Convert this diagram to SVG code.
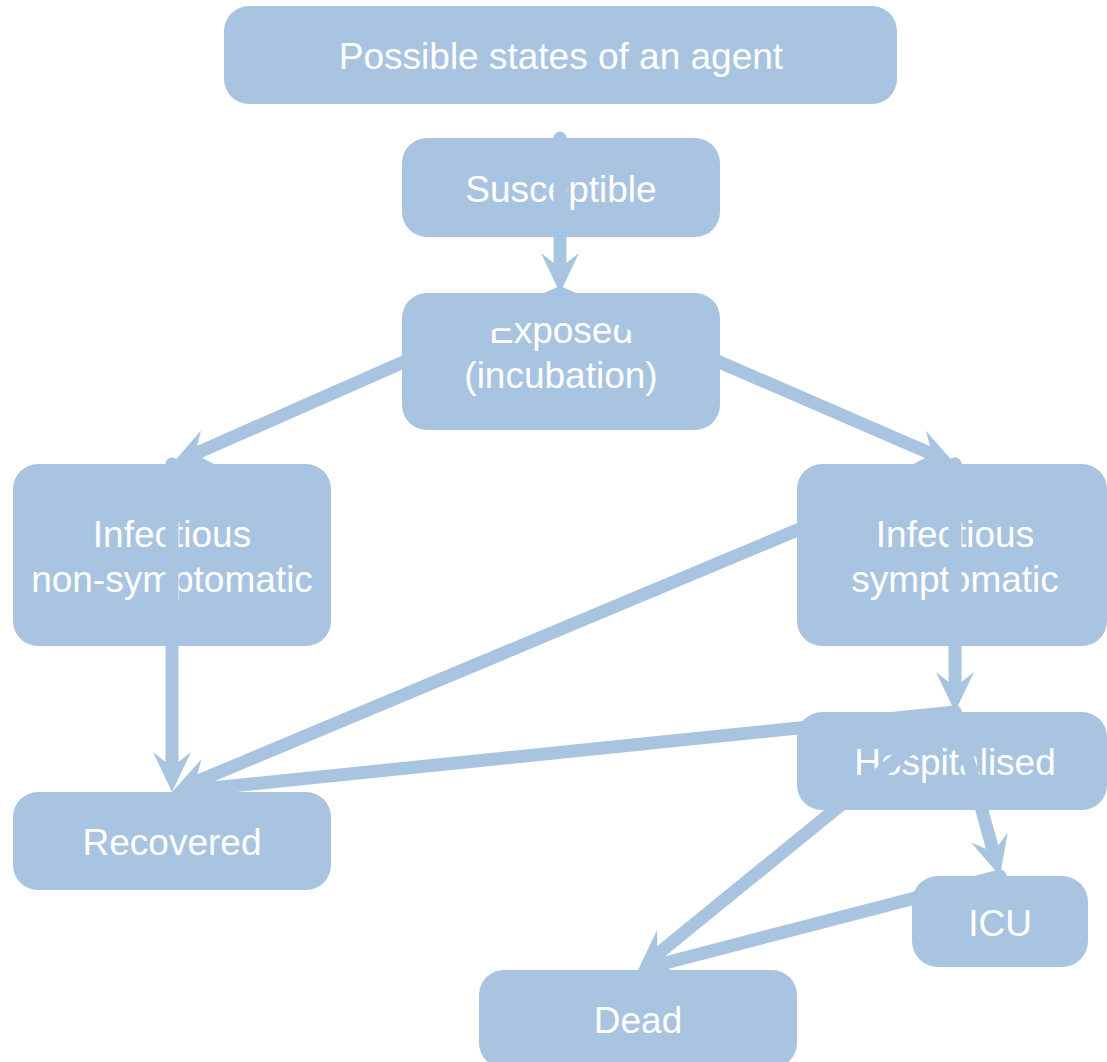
<svg xmlns="http://www.w3.org/2000/svg" width="1107" height="1062" viewBox="0 0 1107 1062">
<style>
.node rect { fill: #a9c4e0; }
.node text { fill: #ffffff; font-family: "Liberation Sans", Arial, sans-serif; font-size: 37px; text-anchor: middle; }
.conn line { stroke: #a9c4e0; stroke-width: 13; stroke-linecap: round; fill: none; marker-end: url(#arr); }
</style>
<defs>
<marker id="arr" markerUnits="userSpaceOnUse" viewBox="-20 -22 50 44" refX="0" refY="0" markerWidth="50" markerHeight="44" orient="auto" overflow="visible">
<path d="M25 0 L-15 -19 L0 0 L-15 19 Z" fill="#a9c4e0"/>
</marker>
</defs>
<rect width="1107" height="1062" fill="#ffffff"/>
<g id="node-title" class="node"><rect x="224" y="6" width="673" height="98" rx="25"/><text x="561" y="69">Possible states of an agent</text></g>
<g id="node-susceptible" class="node"><rect x="402" y="138" width="318" height="99" rx="25"/><text x="561" y="201.5">Susceptible</text></g>
<g id="node-exposed" class="node"><rect x="402" y="293" width="318" height="137" rx="25"/><text x="561" y="343">Exposed</text><text x="561" y="388">(incubation)</text></g>
<g id="node-inf-nonsym" class="node"><rect x="13" y="464" width="318" height="182" rx="25"/><text x="172" y="547">Infectious</text><text x="172" y="592">non-symptomatic</text></g>
<g id="node-inf-sym" class="node"><rect x="797" y="464" width="310" height="182" rx="25"/><text x="955" y="547">Infectious</text><text x="955" y="592">symptomatic</text></g>
<g id="node-hospitalised" class="node"><rect x="797" y="712" width="310" height="98" rx="25"/><text x="955" y="775">Hospitalised</text></g>
<g id="node-recovered" class="node"><rect x="13" y="792" width="318" height="98" rx="25"/><text x="172" y="855">Recovered</text></g>
<g id="node-icu" class="node"><rect x="912" y="876" width="176" height="91" rx="26"/><text x="1000" y="936">ICU</text></g>
<g id="node-dead" class="node"><rect x="479" y="970" width="318" height="98" rx="25"/><text x="638" y="1033">Dead</text></g>
<g id="connectors" class="conn">
<line x1="560" y1="138" x2="560" y2="268"/>
<line x1="560" y1="293" x2="194.9" y2="453.9"/>
<line x1="560" y1="293" x2="932.1" y2="454.1"/>
<line x1="172" y1="464" x2="172" y2="767"/>
<line x1="955" y1="464" x2="195.1" y2="782.3"/>
<line x1="955" y1="464" x2="955" y2="687"/>
<line x1="955" y1="712" x2="196.9" y2="789.5"/>
<line x1="955" y1="712" x2="993.4" y2="851.9"/>
<line x1="955" y1="712" x2="657.4" y2="954.2"/>
<line x1="1000" y1="876" x2="662.2" y2="963.7"/>
</g>
</svg>
